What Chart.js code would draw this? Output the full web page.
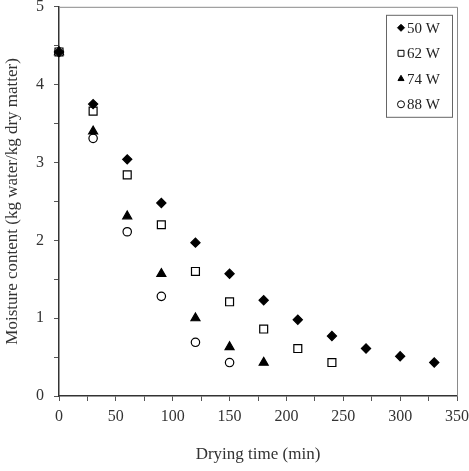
<!DOCTYPE html>
<html>
<head>
<meta charset="utf-8">
<script src="https://cdn.jsdelivr.net/npm/chart.js@4.4.1/dist/chart.umd.min.js"></script>
<style>
  html, body { margin: 0; padding: 0; background: #fff; }
</style>
</head>
<body>
<canvas id="chart" width="469" height="471"></canvas>
<script>
// drying time (min) and moisture content (kg water/kg dry matter) per power level
const times50 = [0, 30, 60, 90, 120, 150, 180, 210, 240, 270, 300, 330]
const mc50 = [4.42, 3.75, 3.04, 2.48, 1.97, 1.57, 1.23, 0.98, 0.77, 0.61, 0.51, 0.43]
const times62 = [0, 30, 60, 90, 120, 150, 180, 210, 240]
const mc62 = [4.42, 3.66, 2.84, 2.20, 1.60, 1.21, 0.86, 0.61, 0.43]
const times74 = [0, 30, 60, 90, 120, 150, 180]
const mc74 = [4.42, 3.40, 2.31, 1.57, 1.00, 0.63, 0.43]
const times88 = [0, 30, 60, 90, 120, 150]
const mc88 = [4.42, 3.31, 2.11, 1.28, 0.69, 0.43]
const seriesLabels = ['50 W', '62 W', '74 W', '88 W']

const font = 'Liberation Serif'
const toPoints = (xs, ys) => xs.map((x, i) => ({ x: x, y: ys[i] }))

function series(label, xs, ys, style, radius, fill) {
    return {
        label: label,
        data: toPoints(xs, ys),
        pointStyle: style,
        pointRadius: radius,
        pointHoverRadius: radius,
        backgroundColor: fill,
        borderColor: '#000',
        borderWidth: 1.2,
        showLine: false,
        clip: false,
    }
}

// frame on top / right of the plot area
const framePlugin = {
    id: 'frame',
    beforeDatasetsDraw(chart) {
        const { ctx, chartArea: a } = chart
        ctx.save()
        ctx.strokeStyle = '#8a8a8a'
        ctx.lineWidth = 1
        ctx.beginPath()
        ctx.moveTo(a.left, a.top + 0.5)
        ctx.lineTo(a.right + 0.5, a.top + 0.5)
        ctx.lineTo(a.right + 0.5, a.bottom)
        ctx.stroke()
        ctx.restore()
    }
}

// boxed legend in the top right corner
const boxLegend = {
    id: 'boxLegend',
    afterDraw(chart) {
        const { ctx, chartArea: a } = chart
        const right = a.right - 5
        const left = right - 66
        const top = a.top + 8
        const h = 102
        ctx.save()
        ctx.strokeStyle = '#666'
        ctx.lineWidth = 1
        ctx.strokeRect(left + 0.5, top + 0.5, right - left, h)
        ctx.font = '15px "' + font + '"'
        ctx.textBaseline = 'middle'
        ctx.textAlign = 'left'
        chart.data.datasets.forEach((ds, i) => {
            const y = top + 13 + i * 25.5
            ctx.fillStyle = ds.backgroundColor
            ctx.strokeStyle = '#000'
            ctx.lineWidth = 1
            Chart.helpers.drawPoint(ctx, {
                pointStyle: ds.pointStyle,
                radius: ds.pointStyle === 'rect' ? 4.2 : 3.5,
                rotation: 0,
                borderWidth: 1
            }, left + 15, y)
            ctx.fillStyle = '#222'
            ctx.fillText(ds.label, left + 21, y + 1)
        })
        ctx.restore()
    }
}

const chart = new Chart(document.getElementById('chart'), {
    type: 'scatter',
    data: {
        datasets: [
            series(seriesLabels[0], times50, mc50, 'rectRot', 4.6, '#000'),
            series(seriesLabels[1], times62, mc62, 'rect', 5.6, '#fff'),
            series(seriesLabels[2], times74, mc74, 'triangle', 5.2, '#000'),
            series(seriesLabels[3], times88, mc88, 'circle', 4.2, '#fff'),
        ]
    },
    options: {
        responsive: false,
        animation: false,
        layout: { padding: { top: 5, right: 12, left: 0, bottom: 0 } },
        plugins: {
            legend: { display: false },
            tooltip: { enabled: false },
        },
        scales: {
            x: {
                type: 'linear',
                min: 0,
                max: 350,
                afterFit: (s) => { s.height = 75; s.paddingRight = 0; s.paddingLeft = 0 },
                ticks: {
                    stepSize: 25,
                    autoSkip: false,
                    maxRotation: 0,
                    padding: 6,
                    color: '#333',
                    font: { family: font, size: 16 },
                    callback: (v) => (v % 50 === 0 ? v : ''),
                },
                grid: { drawOnChartArea: false, drawTicks: true, tickLength: 5, color: '#555' },
                border: { color: '#333', width: 1.5 },
                title: {
                    display: true,
                    text: 'Drying time (min)',
                    color: '#333',
                    font: { family: font, size: 17 },
                    padding: { top: 0, bottom: 6 },
                },
            },
            y: {
                min: 0,
                max: 5,
                afterFit: (s) => { s.width = 59; s.paddingTop = 0; s.paddingBottom = 0 },
                ticks: {
                    stepSize: 0.5,
                    autoSkip: false,
                    padding: 10,
                    color: '#333',
                    font: { family: font, size: 16 },
                    callback: (v) => (Number.isInteger(v) ? v : ''),
                },
                grid: { drawOnChartArea: false, drawTicks: true, tickLength: 5, color: '#555' },
                border: { color: '#333', width: 1.5 },
                title: {
                    display: true,
                    text: 'Moisture content (kg water/kg dry matter)',
                    color: '#333',
                    font: { family: font, size: 17 },
                    padding: { top: 2, bottom: 0 },
                },
            },
        },
    },
    plugins: [framePlugin, boxLegend],
})
</script>
</body>
</html>
